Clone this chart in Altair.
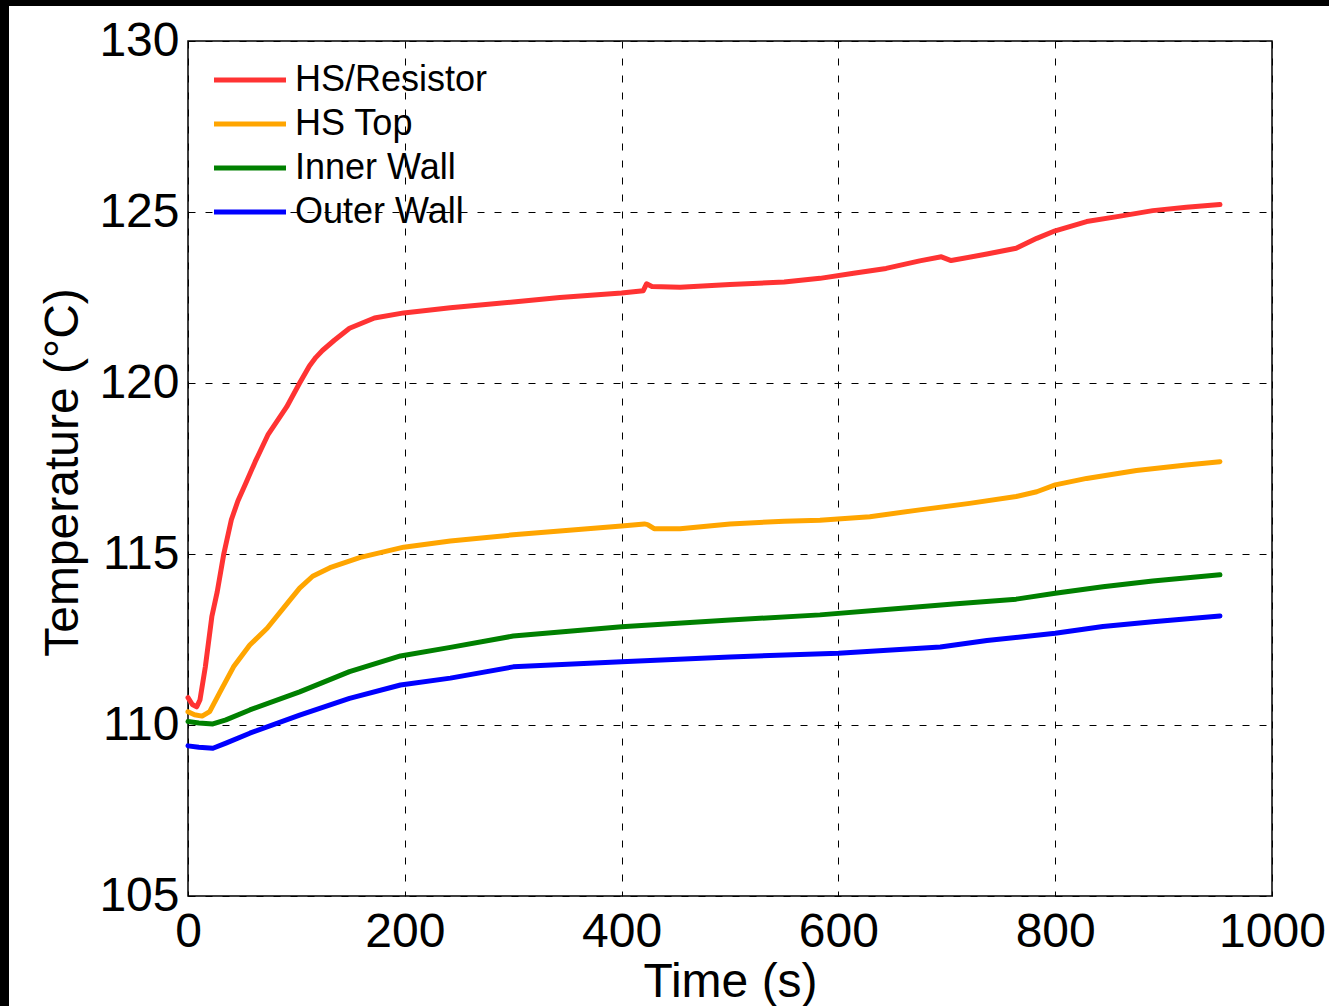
import altair as alt
import pandas as pd

# ---- data ----
series_names = ["HS/Resistor", "HS Top", "Inner Wall", "Outer Wall"]
series_colors = ["#ff3333", "#ffa500", "#008000", "#0000ff"]

t_resistor = [0, 4, 8, 11, 16, 22, 27, 33, 40, 46, 53, 62, 74, 91, 103, 112, 118, 124, 135, 149,
              172, 199, 242, 300, 343, 400, 420, 423, 428, 454, 500, 550, 583, 614, 644, 675, 695,
              704, 737, 764, 783, 800, 829, 860, 890, 921, 952]
T_resistor = [110.8, 110.6, 110.53, 110.73, 111.7, 113.17, 113.9, 115.0, 116.0, 116.55, 117.05,
              117.7, 118.5, 119.3, 120.0, 120.5, 120.75, 120.95, 121.25, 121.6, 121.9, 122.05,
              122.2, 122.37, 122.5, 122.63, 122.7, 122.9, 122.82, 122.8, 122.88, 122.95, 123.06,
              123.21, 123.35, 123.57, 123.69, 123.58, 123.77, 123.94, 124.23, 124.45, 124.72,
              124.88, 125.04, 125.14, 125.22]

t_top = [0, 6, 13, 20, 29, 42, 57, 73, 94, 103, 115, 131, 159, 199, 242, 300, 343, 400, 421, 424,
         430, 454, 500, 550, 583, 629, 675, 721, 764, 783, 800, 829, 875, 921, 952]
T_top = [110.39, 110.3, 110.26, 110.39, 110.93, 111.7, 112.34, 112.83, 113.65, 114.0, 114.35,
         114.6, 114.9, 115.2, 115.38, 115.56, 115.67, 115.82, 115.88, 115.86, 115.74, 115.74,
         115.88, 115.96, 115.99, 116.09, 116.29, 116.48, 116.68, 116.82, 117.02, 117.21, 117.44,
         117.6, 117.7]

t_inner = [0, 10, 23, 35, 57, 103, 149, 196, 242, 300, 400, 500, 583, 644, 706, 764, 800, 844,
           890, 952]
T_inner = [110.1, 110.06, 110.03, 110.15, 110.44, 110.97, 111.56, 112.02, 112.27, 112.6, 112.87,
           113.07, 113.22, 113.38, 113.54, 113.68, 113.85, 114.04, 114.21, 114.39]

t_outer = [0, 10, 23, 35, 57, 103, 149, 196, 242, 300, 400, 500, 600, 694, 737, 800, 844, 890,
           952]
T_outer = [109.39, 109.35, 109.32, 109.47, 109.76, 110.29, 110.78, 111.17, 111.37, 111.7, 111.85,
           111.99, 112.1, 112.28, 112.47, 112.68, 112.88, 113.02, 113.19]

x_ticks = [0, 200, 400, 600, 800, 1000]
y_ticks = [105, 110, 115, 120, 125, 130]

rows = []
for name, ts, vs in zip(series_names,
                        [t_resistor, t_top, t_inner, t_outer],
                        [T_resistor, T_top, T_inner, T_outer]):
    for t, v in zip(ts, vs):
        rows.append({"series": name, "time": t, "temp": v})
df = pd.DataFrame(rows)

FONT = "Liberation Sans"
W, H = 1084, 855

# thin black strips along the left and top edges of the reference picture
strip_left = alt.Chart(alt.Data(values=[{}])).mark_rect(color="black").encode(
    x=alt.value(-188), x2=alt.value(9 - 188),
    y=alt.value(-41), y2=alt.value(1006 - 41),
)
strip_top = alt.Chart(alt.Data(values=[{}])).mark_rect(color="black").encode(
    x=alt.value(-188), x2=alt.value(1329 - 188),
    y=alt.value(-41), y2=alt.value(6 - 41),
)

lines = alt.Chart(df).mark_line(strokeWidth=5, strokeCap="round", strokeJoin="round").encode(
    x=alt.X("time:Q",
            scale=alt.Scale(domain=[0, 1000], nice=False),
            axis=alt.Axis(values=x_ticks, format="d", title="Time (s)", grid=True,
                          domain=False, ticks=False, labelFontSize=48, labelPadding=12,
                          labelFlush=False, titleFontSize=48, titleFontWeight="normal",
                          titleY=100, titleBaseline="alphabetic")),
    y=alt.Y("temp:Q",
            scale=alt.Scale(domain=[105, 130], nice=False, zero=False),
            axis=alt.Axis(values=y_ticks, format="d", title="Temperature (°C)", grid=True,
                          domain=False, ticks=False, labelFontSize=48, labelPadding=9,
                          labelFlush=False, titleFontSize=48, titleFontWeight="normal",
                          titleX=-111, titleY=431, titleAngle=270, titleAlign="center",
                          titleBaseline="alphabetic")),
    color=alt.Color("series:N",
                    scale=alt.Scale(domain=series_names, range=series_colors),
                    sort=series_names,
                    legend=alt.Legend(title=None, orient="none", legendX=17, legendY=21,
                                      symbolType="M-1,0H7", symbolSize=324,
                                      symbolStrokeWidth=5, labelFontSize=36,
                                      labelOffset=54, rowPadding=8, padding=0,
                                      labelLimit=0, labelColor="black")),
    detail="series:N",
)

chart = alt.layer(lines, strip_left, strip_top).properties(
    width=W, height=H,
    autosize="none",
    padding={"left": 188, "top": 41, "right": 57, "bottom": 110},
    background="white",
).configure(font=FONT).configure_axis(
    gridColor="black", gridDash=[7, 10], gridWidth=1, gridOpacity=1,
    labelColor="black", titleColor="black", labelFont=FONT, titleFont=FONT,
).configure_view(
    stroke="black", strokeWidth=1.5,
).configure_legend(labelFont=FONT)

chart.save("out.html", embed_options={"renderer": "svg", "actions": False})
